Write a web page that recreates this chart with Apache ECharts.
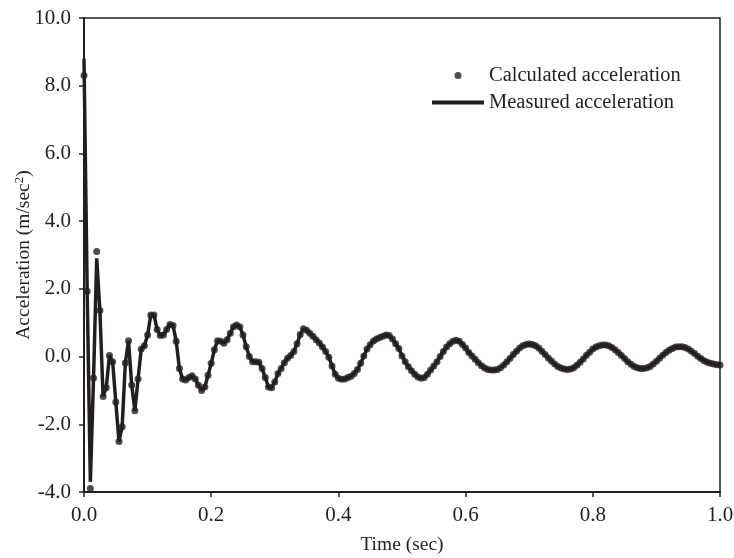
<!DOCTYPE html>
<html>
<head>
<meta charset="utf-8">
<script src="https://cdn.jsdelivr.net/npm/echarts@6/dist/echarts.min.js"></script>
<style>
  html, body { margin: 0; padding: 0; background: #fff; }
  #chart { width: 734px; height: 558px; }
</style>
</head>
<body>
<div id="chart"></div>
<script>
// time step 0.005 sec
var timeStep = 0.005;

// measured acceleration (m/sec^2), one value per time step
var measured = [
    8.8, 1.93, -3.7, -0.63, 2.9, 1.36, -1.18, -0.92, 0.03, -0.15,
    -1.34, -2.51, -2.07, -0.19, 0.47, -0.84, -1.6, -0.66, 0.22, 0.32,
    0.64, 1.23, 1.23, 0.8, 0.62, 0.64, 0.8, 0.95, 0.92, 0.45,
    -0.35, -0.66, -0.69, -0.62, -0.57, -0.66, -0.85, -1.0, -0.9, -0.55,
    -0.2, 0.2, 0.47, 0.45, 0.39, 0.5, 0.69, 0.88, 0.93, 0.88,
    0.64, 0.29, 0.0, -0.15, -0.15, -0.17, -0.35, -0.62, -0.9, -0.92,
    -0.75, -0.5, -0.35, -0.18, -0.05, 0.03, 0.15, 0.38, 0.65, 0.82,
    0.78, 0.69, 0.6, 0.5, 0.4, 0.28, 0.15, -0.02, -0.28, -0.52,
    -0.64, -0.67, -0.66, -0.62, -0.58, -0.5, -0.38, -0.2, 0.02, 0.22,
    0.35, 0.46, 0.52, 0.56, 0.6, 0.64, 0.62, 0.52, 0.38, 0.24,
    0.02, -0.15, -0.3, -0.42, -0.52, -0.6, -0.64, -0.62, -0.52, -0.4,
    -0.28, -0.15, 0.0, 0.15, 0.28, 0.38, 0.45, 0.48, 0.45, 0.36,
    0.25, 0.12, 0.02, -0.08, -0.18, -0.27, -0.34, -0.38, -0.4, -0.4,
    -0.38, -0.33, -0.25, -0.15, -0.05, 0.06, 0.16, 0.25, 0.32, 0.36,
    0.37, 0.36, 0.32, 0.25, 0.16, 0.06, -0.04, -0.13, -0.22, -0.29,
    -0.34, -0.37, -0.38, -0.37, -0.33, -0.26, -0.17, -0.07, 0.04, 0.13,
    0.22, 0.28, 0.32, 0.34, 0.34, 0.32, 0.27, 0.2, 0.12, 0.03,
    -0.06, -0.15, -0.23, -0.29, -0.33, -0.35, -0.35, -0.33, -0.29, -0.22,
    -0.14, -0.05, 0.04, 0.12, 0.19, 0.24, 0.28, 0.29, 0.29, 0.27,
    0.22, 0.16, 0.09, 0.01, -0.06, -0.12, -0.17, -0.2, -0.22, -0.24,
    -0.25
];

// calculated values differ from measured only at the first peaks
var calculatedStart = [8.3, 1.93, -3.9, -0.63, 3.1];

var xTicks = [0, 0.2, 0.4, 0.6, 0.8, 1.0];
var yTicks = [-4, -2, 0, 2, 4, 6, 8, 10];

var ink = '#231f20';
var serif = 'Liberation Serif';

var measuredData = [];
var calculatedData = [];
for (var i = 0; i < measured.length; i++) {
    var t = +(i * timeStep).toFixed(3);
    measuredData.push([t, measured[i]]);
    var c = i < calculatedStart.length ? calculatedStart[i] : measured[i];
    calculatedData.push([t, c]);
}

var myChart = echarts.init(document.getElementById('chart'));
var option = {
    animation: false,
    grid: {
        left: 84,
        right: 14,
        top: 18,
        bottom: 66,
        outerBoundsMode: 'none',
        containLabel: false,
        show: true,
        borderColor: ink,
        borderWidth: 1.5
    },
    legend: {
        orient: 'vertical',
        left: 427,
        top: 60,
        itemWidth: 52,
        itemHeight: 7,
        itemGap: 6,
        textStyle: { fontFamily: serif, fontSize: 20.5, color: ink },
        data: [
            { name: 'Calculated acceleration', icon: 'circle' },
            { name: 'Measured acceleration', icon: 'path://M0,0H52V4H0Z' }
        ]
    },
    xAxis: {
        type: 'value',
        min: xTicks[0],
        max: xTicks[xTicks.length - 1],
        interval: 0.2,
        name: 'Time (sec)',
        nameLocation: 'middle',
        nameGap: 43,
        nameMoveOverlap: false,
        nameTextStyle: { fontFamily: serif, fontSize: 19.5, color: ink },
        axisLine: { onZero: false, lineStyle: { color: ink, width: 2 } },
        axisTick: { inside: false, length: 5, lineStyle: { color: ink, width: 1.5 } },
        axisLabel: {
            margin: 13,
            fontFamily: serif, fontSize: 21, color: ink,
            formatter: function (v) { return v.toFixed(1); }
        },
        splitLine: { show: false }
    },
    yAxis: {
        type: 'value',
        min: yTicks[0],
        max: yTicks[yTicks.length - 1],
        interval: 2,
        name: 'Acceleration (m/sec{sup|2})',
        nameLocation: 'middle',
        nameGap: 50,
        nameMoveOverlap: false,
        nameTextStyle: {
            fontFamily: serif, fontSize: 19.5, color: ink,
            rich: {
                sup: { fontFamily: serif, fontSize: 13, color: ink, verticalAlign: 'top', padding: [0, 0, 8, 0] }
            }
        },
        axisLine: { onZero: false, lineStyle: { color: ink, width: 2 } },
        axisTick: { inside: false, length: 5, lineStyle: { color: ink, width: 1.5 } },
        axisLabel: {
            margin: 13,
            fontFamily: serif, fontSize: 21, color: ink,
            formatter: function (v) { return v.toFixed(1); }
        },
        splitLine: { show: false }
    },
    series: [
        {
            name: 'Measured acceleration',
            type: 'line',
            symbol: 'none',
            showSymbol: false,
            color: ink,
            lineStyle: { color: ink, width: 3.5 },
            data: measuredData,
            z: 2
        },
        {
            name: 'Calculated acceleration',
            type: 'scatter',
            symbol: 'circle',
            symbolSize: 7,
            itemStyle: { color: ink },
            data: calculatedData,
            z: 3
        }
    ]
};
myChart.setOption(option);
</script>
</body>
</html>
